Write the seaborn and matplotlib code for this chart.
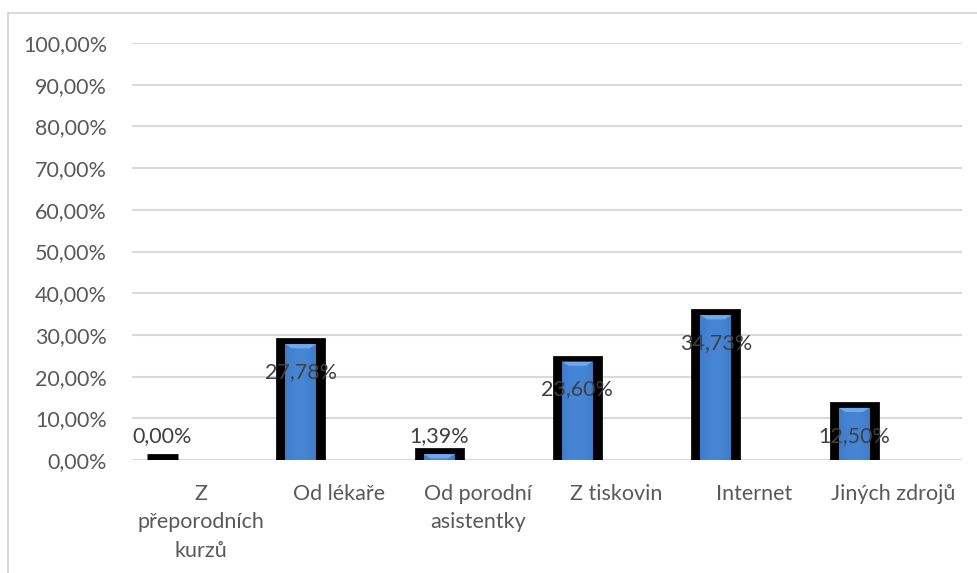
import numpy as np
import pandas as pd
import matplotlib
matplotlib.use("Agg")
import matplotlib.pyplot as plt
import matplotlib.patheffects as pe
from matplotlib.lines import Line2D
from matplotlib.ticker import FuncFormatter
import seaborn as sns

# Source of information about the topic (share of respondents)
categories = ["Z\npřeporodních\nkurzů", "Od lékaře", "Od porodní\nasistentky",
              "Z tiskovin", "Internet", "Jiných zdrojů"]
values = [0.00, 27.78, 1.39, 23.60, 34.73, 12.50]
series = ["Řada 1", "Řada 2"]
y_ticks = [0, 10, 20, 30, 40, 50, 60, 70, 80, 90, 100]

df = pd.DataFrame({"zdroj": categories, "podil": values, "rada": series[0]})

sns.set_theme(style="white")
plt.rcParams["font.family"] = ["Lato", "DejaVu Sans"]

fig = plt.figure(figsize=(9.78, 5.73), dpi=100)
ax = fig.add_axes([132 / 978, 1 - 460 / 573, (962 - 132) / 978, (460 - 43) / 573])

sns.barplot(data=df, x="zdroj", y="podil", hue="rada", hue_order=series,
            order=categories, dodge=True, width=1.12, gap=0.6,
            palette=["#3a78c6", "#3a78c6"],
            saturation=1, legend=False, ax=ax, zorder=3, linewidth=0)

ax.set_ylim(0, 100)
ax.set_xlim(-0.5, len(categories) - 0.5)
ax.set_yticks(y_ticks)
ax.yaxis.set_major_formatter(FuncFormatter(lambda v, _: f"{v:.2f}%".replace(".", ",")))
ax.grid(axis="y", color="#d9d9d9", linewidth=1.5, zorder=0)
ax.grid(axis="x", visible=False)
for s in ax.spines.values():
    s.set_visible(False)
ax.tick_params(axis="y", length=0, pad=18, labelsize=15.5, labelcolor="#595959")
ax.tick_params(axis="x", length=0, pad=17, labelsize=15.5, labelcolor="#595959")
for t in ax.get_xticklabels():
    t.set_linespacing(1.55)
    t.set_verticalalignment("top")
ax.set_xlabel("")
ax.set_ylabel("")

# Bars: black halo, blue body with soft bevel gradient, value label
grad_x = np.linspace(-1, 1, 64)
grad = 1 - 0.35 * grad_x ** 2
img = np.zeros((64, 64, 3))
base_rgb = np.array([0x2c, 0x66, 0xb5]) / 255
light_rgb = np.array([0x47, 0x86, 0xd4]) / 255
for i in range(64):
    img[:, i] = base_rgb + (light_rgb - base_rgb) * grad[i]

bars = [p for p in ax.patches if p.get_height() == p.get_height()]
for patch, v in zip(bars[:len(values)], values):
    patch.set_path_effects([
        pe.Stroke(linewidth=13.5, foreground="black", offset=(0, -2.2), joinstyle="miter"),
        pe.Normal(),
    ])
    x0 = patch.get_x()
    w = patch.get_width()
    h = patch.get_height()
    if h > 0:
        im = ax.imshow(img, extent=(x0, x0 + w, 0, h), aspect="auto",
                       origin="lower", zorder=4, interpolation="bilinear")
        im.set_clip_path(patch)
        # lighter bevel at the top of the bar
        top = min(1.0, h)
        ax.fill([x0, x0 + w, x0 + w * 0.78, x0 + w * 0.22],
                [h, h, h - top, h - top], color="#6fa9ec", zorder=5, lw=0)
    cx = x0 + w / 2
    ly = max(v - 6.7, 5.8)
    ax.text(cx, ly, f"{v:.2f}%".replace(".", ","), ha="center", va="center",
            fontsize=15.5, color="#404040", zorder=6)

# chart frame edges
fig.add_artist(Line2D([8 / 978, 8 / 978], [0, 1 - 13 / 573], color="#d9d9d9",
                      lw=1.5, transform=fig.transFigure))
fig.add_artist(Line2D([8 / 978, 1], [1 - 13 / 573, 1 - 13 / 573], color="#d9d9d9",
                      lw=1.5, transform=fig.transFigure))

fig.savefig("out.png", dpi=100, facecolor="white")
